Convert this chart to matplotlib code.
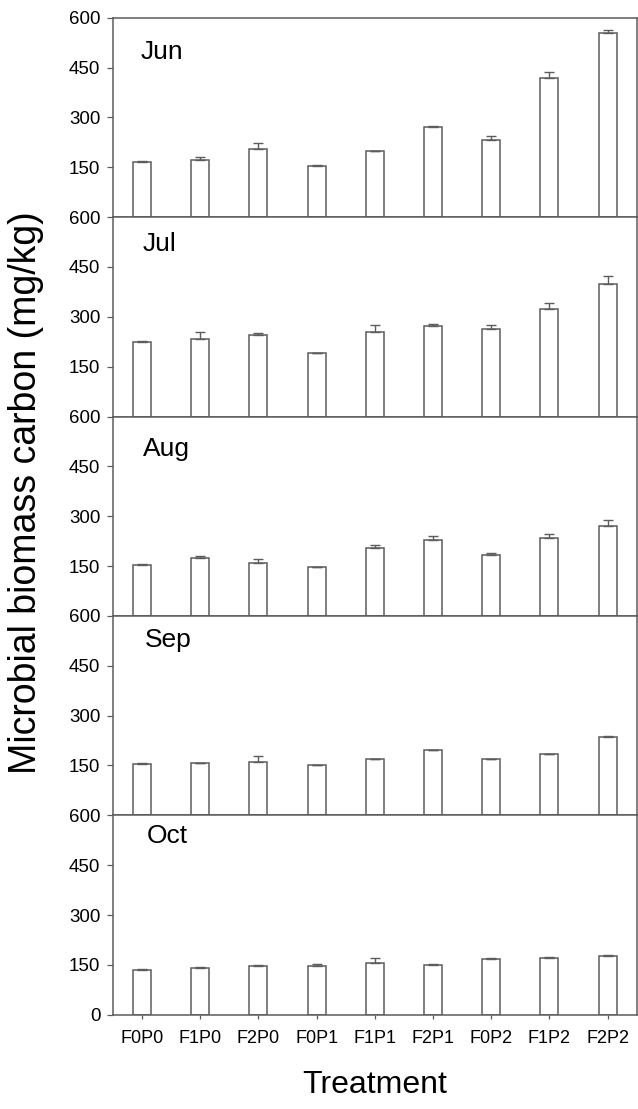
import matplotlib.pyplot as plt
import numpy as np

plt.rcParams['font.family'] = ['Liberation Sans', 'DejaVu Sans']

treatments = ['F0P0', 'F1P0', 'F2P0', 'F0P1', 'F1P1', 'F2P1', 'F0P2', 'F1P2', 'F2P2']
months = ['Jun', 'Jul', 'Aug', 'Sep', 'Oct']

# mean microbial biomass carbon (mg/kg) and standard error per month
jun_mean = [167, 173, 204, 155, 199, 272, 231, 419, 553]
jun_err = [1, 8, 18, 1, 1, 1, 13, 19, 10]
jul_mean = [224, 232, 245, 191, 254, 273, 264, 323, 400]
jul_err = [3, 21, 5, 0, 21, 4, 12, 19, 22]
aug_mean = [153, 175, 160, 146, 205, 229, 184, 235, 271]
aug_err = [2, 4, 10, 2, 8, 12, 5, 12, 19]
sep_mean = [154, 156, 161, 150, 171, 196, 171, 184, 237]
sep_err = [4, 2, 19, 1, 0, 1, 0, 2, 1]
oct_mean = [135, 142, 146, 147, 157, 151, 167, 171, 176]
oct_err = [2, 1, 3, 7, 15, 2, 4, 2, 5]

means = [jun_mean, jul_mean, aug_mean, sep_mean, oct_mean]
errs = [jun_err, jul_err, aug_err, sep_err, oct_err]

# where the month name sits inside each panel (axes fraction)
label_pos = [(0.052, 0.83), (0.057, 0.864), (0.057, 0.835), (0.061, 0.88), (0.065, 0.894)]

line_col = '#5c5c5c'
x = np.arange(len(treatments))

fig, axes = plt.subplots(5, 1, figsize=(6.38, 11.09), dpi=100, sharex=True)
fig.subplots_adjust(left=0.177, right=0.998, top=0.984, bottom=0.085, hspace=0)

for i, ax in enumerate(axes):
    m = np.array(means[i])
    e = np.array(errs[i])
    ax.bar(x, m, width=0.31, color='white', edgecolor=line_col, linewidth=1.1, zorder=2)
    ax.errorbar(x, m, yerr=[np.zeros_like(e), e], fmt='none', ecolor=line_col,
                elinewidth=1.0, capsize=3.5, capthick=1.0, zorder=3)
    ax.set_ylim(0, 600)
    ax.set_xlim(-0.5, 8.5)
    if i < 4:
        ax.set_yticks([150, 300, 450, 600])
        ax.tick_params(axis='x', bottom=False, labelbottom=False)
    else:
        ax.set_yticks([0, 150, 300, 450, 600])
        ax.set_xticks(x)
        ax.set_xticklabels(treatments)
    ax.tick_params(axis='y', direction='out', length=4, width=0.9, color=line_col,
                   labelsize=13.5, pad=5)
    ax.tick_params(axis='x', direction='out', length=3, width=0.9, color=line_col,
                   labelsize=13, pad=8)
    for s in ax.spines.values():
        s.set_color(line_col)
        s.set_linewidth(1.1)
    ax.text(label_pos[i][0], label_pos[i][1], months[i], transform=ax.transAxes,
            fontsize=19, va='center', ha='left')

fig.text(0.04, 0.556, 'Microbial biomass carbon (mg/kg)', rotation=90,
         fontsize=27, va='center', ha='center')
fig.text(0.587, 0.008, 'Treatment', fontsize=23, ha='center', va='bottom')

plt.savefig('out.png', dpi=100)
